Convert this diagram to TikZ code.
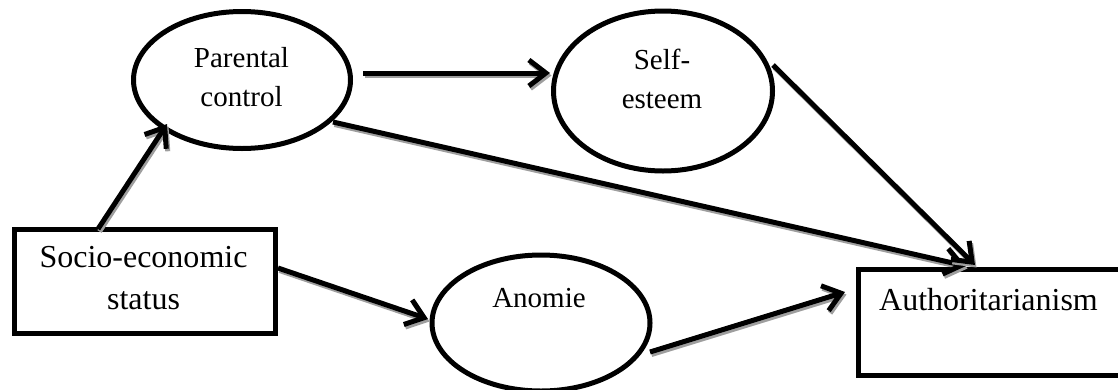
\documentclass[tikz,border=0pt]{standalone}
\usepackage{fontspec}
\setmainfont{Liberation Serif}
\usetikzlibrary{arrows.meta,shapes.geometric}
\tikzset{
  oval/.style={ellipse, draw, line width=5pt, inner sep=0pt, outer sep=0pt},
  boxnode/.style={rectangle, draw, line width=5pt, inner sep=0pt, outer sep=0pt},
  ovaltext/.style={align=center, inner sep=0pt, font=\fontsize{29}{39}\selectfont},
  boxtext/.style={align=center, inner sep=0pt, font=\fontsize{32}{42}\selectfont},
  conn/.style={line width=5pt, -{Straight Barb[length=17pt,width=26pt]}},
  connshadow/.style={conn, draw=black!38, transform canvas={shift={(1.5pt,-2.5pt)}}},
}
\newcommand\linkarrow[2]{\draw[connshadow] #1 -- #2; \draw[conn] #1 -- #2;}
\begin{document}
\begin{tikzpicture}[x=1pt,y=-1pt]
\useasboundingbox (0,0) rectangle (1118,389);
% shapes
\node[oval, minimum width=217pt, minimum height=137pt] (pc) at (242,80) {};
\node[oval, minimum width=219pt, minimum height=160pt] (se) at (663,91) {};
\node[oval, minimum width=218pt, minimum height=136pt] (ano) at (541,323) {};
\node[boxnode, minimum width=261pt, minimum height=104pt] (soc) at (144.5,281) {};
\node[boxnode, minimum width=282pt, minimum height=106pt] (auth) at (999,322) {};
% texts
\node[ovaltext] (pct) at (241.5,76.6) {Parental\\control};
\node[ovaltext] (set) at (662,79.1) {Self-\\esteem};
\node[ovaltext] (anot) at (539,298) {Anomie};
\node[boxtext] (soct) at (143.5,278) {Socio-economic\\status};
\node[boxtext] (autht) at (988.5,300) {Authoritarianism};
% connectors
\linkarrow{([shift={(-46.5,0)}]soc.north)}{([shift={(-75,44)}]pc.center)}
\linkarrow{([shift={(12.5,-7)}]pc.east)}{([shift={(-3.5,-18)}]se.west)}
\linkarrow{([shift={(91,42)}]pc.center)}{([shift={(108,-3)}]auth.north west)}
\linkarrow{([shift={(0.5,-26)}]se.east)}{([shift={(117,-4)}]auth.north west)}
\linkarrow{([shift={(3,-13)}]soc.east)}{([shift={(-4,-4)}]ano.west)}
\linkarrow{([shift={(0,29)}]ano.east)}{([shift={(-13,-30)}]auth.west)}
\end{tikzpicture}
\end{document}
